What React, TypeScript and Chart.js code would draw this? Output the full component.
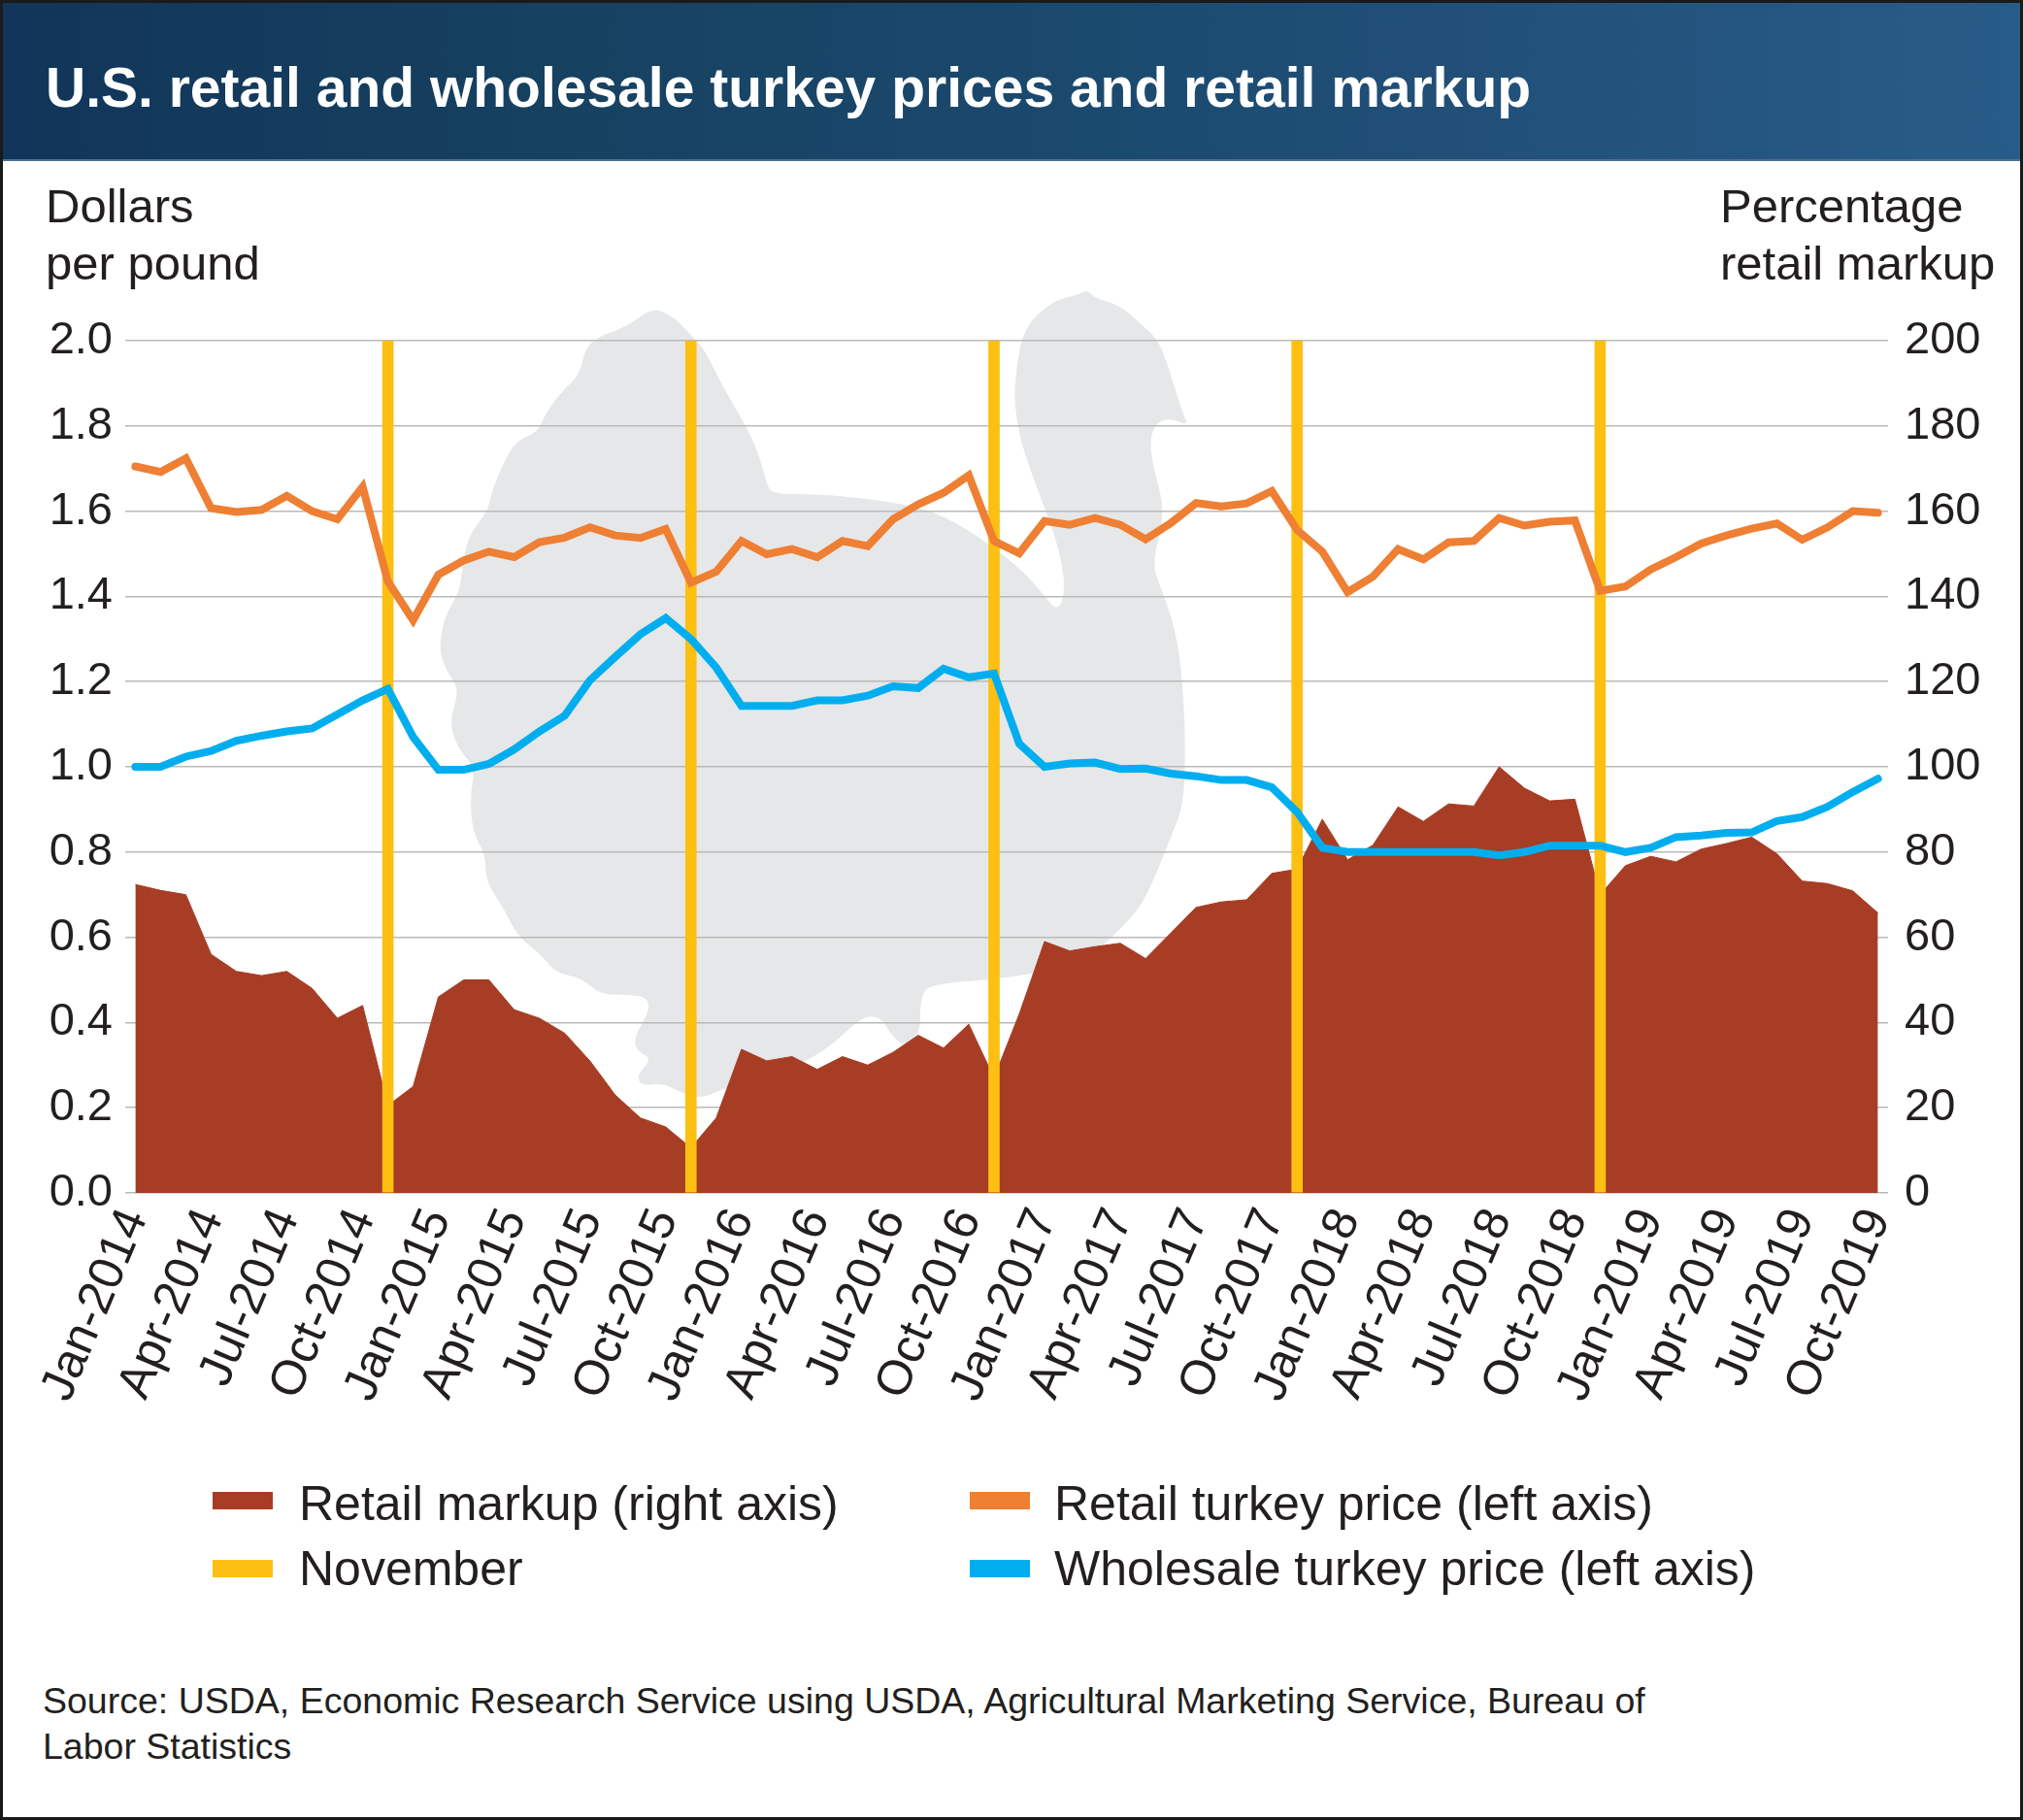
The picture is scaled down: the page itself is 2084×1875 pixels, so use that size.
import React, { useEffect, useRef } from "react";
import { Chart, registerables } from "chart.js";

Chart.register(...registerables);

// ---------- DATA ----------
const months = [
  "Jan-2014", "Feb-2014", "Mar-2014", "Apr-2014", "May-2014", "Jun-2014", "Jul-2014", "Aug-2014", "Sep-2014", "Oct-2014", "Nov-2014", "Dec-2014",
  "Jan-2015", "Feb-2015", "Mar-2015", "Apr-2015", "May-2015", "Jun-2015", "Jul-2015", "Aug-2015", "Sep-2015", "Oct-2015", "Nov-2015", "Dec-2015",
  "Jan-2016", "Feb-2016", "Mar-2016", "Apr-2016", "May-2016", "Jun-2016", "Jul-2016", "Aug-2016", "Sep-2016", "Oct-2016", "Nov-2016", "Dec-2016",
  "Jan-2017", "Feb-2017", "Mar-2017", "Apr-2017", "May-2017", "Jun-2017", "Jul-2017", "Aug-2017", "Sep-2017", "Oct-2017", "Nov-2017", "Dec-2017",
  "Jan-2018", "Feb-2018", "Mar-2018", "Apr-2018", "May-2018", "Jun-2018", "Jul-2018", "Aug-2018", "Sep-2018", "Oct-2018", "Nov-2018", "Dec-2018",
  "Jan-2019", "Feb-2019", "Mar-2019", "Apr-2019", "May-2019", "Jun-2019", "Jul-2019", "Aug-2019", "Sep-2019", "Oct-2019",
];

const tickLabels = [
  "Jan-2014", "Apr-2014", "Jul-2014", "Oct-2014",
  "Jan-2015", "Apr-2015", "Jul-2015", "Oct-2015",
  "Jan-2016", "Apr-2016", "Jul-2016", "Oct-2016",
  "Jan-2017", "Apr-2017", "Jul-2017", "Oct-2017",
  "Jan-2018", "Apr-2018", "Jul-2018", "Oct-2018",
  "Jan-2019", "Apr-2019", "Jul-2019", "Oct-2019",
];

// Retail turkey price, dollars per pound (left axis)
const retailPrice = [
  1.705, 1.692, 1.724, 1.607, 1.598, 1.603, 1.636, 1.600, 1.581, 1.657, 1.435, 1.344,
  1.451, 1.484, 1.505, 1.492, 1.527, 1.538, 1.562, 1.543, 1.537, 1.558, 1.432, 1.458,
  1.530, 1.499, 1.511, 1.492, 1.530, 1.518, 1.581, 1.616, 1.643, 1.684, 1.530, 1.501,
  1.577, 1.568, 1.584, 1.568, 1.534, 1.572, 1.619, 1.611, 1.618, 1.647, 1.556, 1.505,
  1.410, 1.446, 1.511, 1.487, 1.527, 1.530, 1.584, 1.566, 1.575, 1.578, 1.413, 1.423,
  1.463, 1.492, 1.524, 1.543, 1.559, 1.571, 1.533, 1.562, 1.600, 1.596,
];

// Wholesale turkey price, dollars per pound (left axis)
const wholesalePrice = [
  1.000, 1.000, 1.024, 1.037, 1.061, 1.073, 1.083, 1.090, 1.123, 1.156, 1.183, 1.070,
  0.993, 0.993, 1.007, 1.041, 1.083, 1.120, 1.203, 1.258, 1.311, 1.349, 1.300, 1.233,
  1.143, 1.143, 1.143, 1.156, 1.156, 1.167, 1.189, 1.185, 1.230, 1.210, 1.219, 1.054,
  1.000, 1.008, 1.010, 0.995, 0.996, 0.984, 0.978, 0.969, 0.969, 0.952, 0.894, 0.810,
  0.800, 0.800, 0.800, 0.800, 0.800, 0.800, 0.792, 0.800, 0.815, 0.815, 0.815, 0.800,
  0.810, 0.835, 0.839, 0.845, 0.846, 0.873, 0.882, 0.906, 0.941, 0.972,
];

// Percentage retail markup (right axis)
const retailMarkup = [
  72.4, 71.0, 70.0, 56.0, 52.0, 51.0, 52.0, 48.0, 41.0, 44.0, 20.5, 25.0,
  46.0, 50.0, 50.0, 43.0, 41.0, 37.5, 31.0, 23.0, 17.6, 15.5, 10.6, 17.6,
  33.7, 31.0, 32.0, 29.0, 32.0, 30.0, 33.0, 37.0, 34.0, 39.6, 27.0, 42.0,
  59.0, 56.8, 57.8, 58.6, 55.0, 61.0, 67.0, 68.3, 68.8, 75.0, 76.0, 87.7,
  78.2, 81.6, 90.6, 87.2, 91.3, 90.8, 100.0, 95.0, 92.0, 92.4, 70.0, 76.8,
  79.0, 77.7, 80.7, 82.0, 83.5, 79.6, 73.2, 72.6, 70.9, 65.7,
];

// November markers (full height of the left axis)
const novemberMonths = ["Nov-2014", "Nov-2015", "Nov-2016", "Nov-2017", "Nov-2018"];
const novemberValues = [2.0, 2.0, 2.0, 2.0, 2.0];

// ---------- STYLE ----------
const FONT = '"Liberation Sans", Arial, Helvetica, sans-serif';
const TEXT = "#231f20";
const C_MARKUP = "#a63d24";
const C_RETAIL = "#ee7f33";
const C_WHOLE = "#00aeef";
const C_NOV = "#fcbf12";

// Decorative turkey silhouette outline (reference-pixel outline, scaled to the chart area)
const TURKEY = [
  [470, 63], [420, 100], [345, 125], [330, 190], [300, 215], [265, 260], [250, 295], [210, 310], [185, 350],
  [160, 410], [155, 440], [115, 490], [105, 550], [100, 590], [70, 640], [60, 700], [75, 740], [100, 775],
  [80, 830], [95, 880], [130, 920], [120, 970], [125, 1040], [150, 1080], [150, 1130], [185, 1180], [210, 1230],
  [260, 1270], [285, 1300], [335, 1310], [370, 1340], [420, 1340], [460, 1345], [465, 1370], [435, 1420],
  [440, 1445], [470, 1460], [440, 1490], [450, 1510], [490, 1505], [520, 1520], [560, 1535], [620, 1510],
  [700, 1490], [800, 1450], [895, 1360], [945, 1440], [985, 1420], [985, 1340], [1010, 1320], [1160, 1310],
  [1300, 1280], [1380, 1210], [1420, 1160], [1470, 1040], [1490, 990], [1495, 900], [1490, 760], [1475, 660],
  [1450, 590], [1430, 540], [1450, 470], [1450, 420], [1435, 370], [1425, 310], [1440, 275], [1470, 270],
  [1500, 283], [1490, 260], [1470, 200], [1445, 125], [1410, 95], [1370, 60], [1320, 45], [1305, 30],
  [1290, 40], [1240, 50], [1185, 100], [1170, 170], [1165, 240], [1180, 320], [1210, 400], [1245, 490],
  [1262, 560], [1260, 610], [1245, 625], [1225, 600], [1180, 550], [1100, 490], [1010, 440], [900, 420],
  [790, 410], [700, 410], [690, 390], [670, 320], [630, 250], [600, 200], [570, 140], [540, 110], [510, 80],
];

const turkeyPlugin = {
  id: "turkeySilhouette",
  beforeDraw(chart: any) {
    const { ctx, chartArea: ca } = chart;
    if (!ca) return;
    const w = ca.right - ca.left;
    const h = ca.bottom - ca.top;
    const pts = TURKEY.map(([zx, zy]) => {
      const X = 711 + (zx - 543) * 0.5361;
      const Y = 351 + (zy - 125) * 0.5543;
      return [ca.left + ((X - 129) / 1816) * w, ca.top + ((Y - 351) / 878) * h];
    });
    const n = pts.length;
    const mid = (a: number[], b: number[]) => [(a[0] + b[0]) / 2, (a[1] + b[1]) / 2];
    ctx.save();
    ctx.beginPath();
    ctx.rect(ca.left, ca.top - 60, w, h + 60);
    ctx.clip();
    ctx.fillStyle = "#e6e7e8";
    ctx.beginPath();
    const m0 = mid(pts[n - 1], pts[0]);
    ctx.moveTo(m0[0], m0[1]);
    for (let i = 0; i < n; i++) {
      const p = pts[i];
      const m = mid(p, pts[(i + 1) % n]);
      ctx.quadraticCurveTo(p[0], p[1], m[0], m[1]);
    }
    ctx.closePath();
    ctx.fill();
    ctx.restore();
  },
};

export default function App() {
  const canvasRef = useRef<HTMLCanvasElement>(null);

  useEffect(() => {
    document.body.style.margin = "0";
    const canvas = canvasRef.current;
    if (!canvas) return;
    const toXY = (arr: number[]) => arr.map((v, i) => ({ x: i, y: v }));

    const chart = new Chart(canvas, {
      type: "line",
      data: {
        datasets: [
          {
            label: "Retail turkey price (left axis)",
            data: toXY(retailPrice),
            borderColor: C_RETAIL,
            backgroundColor: C_RETAIL,
            borderWidth: 8,
            pointRadius: 0,
            tension: 0,
            fill: false,
            borderJoinStyle: "miter",
            borderCapStyle: "round",
            yAxisID: "y",
            order: 0,
          } as any,
          {
            label: "Wholesale turkey price (left axis)",
            data: toXY(wholesalePrice),
            borderColor: C_WHOLE,
            backgroundColor: C_WHOLE,
            borderWidth: 8,
            pointRadius: 0,
            tension: 0,
            fill: false,
            borderJoinStyle: "miter",
            borderCapStyle: "round",
            yAxisID: "y",
            order: 1,
          } as any,
          {
            type: "bar",
            label: "November",
            data: novemberMonths.map((m, i) => ({ x: months.indexOf(m), y: novemberValues[i] })),
            backgroundColor: C_NOV,
            borderWidth: 0,
            barThickness: 11,
            yAxisID: "y",
            order: 2,
          } as any,
          {
            label: "Retail markup (right axis)",
            data: toXY(retailMarkup),
            borderColor: C_MARKUP,
            backgroundColor: C_MARKUP,
            borderWidth: 1,
            pointRadius: 0,
            tension: 0,
            fill: "origin",
            yAxisID: "y1",
            order: 3,
          } as any,
        ],
      },
      options: {
        responsive: false,
        animation: false,
        events: [],
        layout: { padding: { top: 51, left: 0, right: 0, bottom: 0 } },
        plugins: {
          legend: { display: false },
          tooltip: { enabled: false },
          title: { display: false },
        },
        scales: {
          x: {
            type: "linear",
            min: -0.4,
            max: 69.4,
            offset: false,
            grid: { display: false, drawTicks: false, offset: false },
            border: { display: false },
            afterBuildTicks: (scale: any) => {
              scale.ticks = tickLabels.map((l) => ({ value: months.indexOf(l) }));
            },
            afterFit: (scale: any) => {
              scale.height = 251;
            },
            ticks: {
              autoSkip: false,
              minRotation: 67,
              maxRotation: 67,
              padding: 8,
              color: TEXT,
              font: { family: FONT, size: 50 },
              callback: (v: any) => months[Math.round(Number(v))] ?? "",
            },
          },
          y: {
            position: "left",
            min: 0,
            max: 2,
            afterFit: (scale: any) => {
              scale.width = 129;
            },
            grid: { color: "#b9b9b9", lineWidth: 1.6, drawTicks: false },
            border: { display: false },
            ticks: {
              stepSize: 0.2,
              padding: 13,
              color: TEXT,
              font: { family: FONT, size: 47 },
              callback: (v: any) => Number(v).toFixed(1),
            },
          },
          y1: {
            position: "right",
            min: 0,
            max: 200,
            afterFit: (scale: any) => {
              scale.width = 139;
            },
            grid: { display: false, drawTicks: false },
            border: { display: false },
            ticks: {
              stepSize: 20,
              padding: 17,
              color: TEXT,
              font: { family: FONT, size: 47 },
              callback: (v: any) => String(Math.round(Number(v))),
            },
          },
        },
      } as any,
      plugins: [turkeyPlugin],
    });

    return () => chart.destroy();
  }, []);

  const abs = (s: React.CSSProperties): React.CSSProperties => ({ position: "absolute", whiteSpace: "nowrap", ...s });

  const legendItems = [
    { label: "Retail markup (right axis)", color: C_MARKUP, sx: 219, tx: 308, row: 0 },
    { label: "Retail turkey price (left axis)", color: C_RETAIL, sx: 999, tx: 1086, row: 0 },
    { label: "November", color: C_NOV, sx: 219, tx: 308, row: 1 },
    { label: "Wholesale turkey price (left axis)", color: C_WHOLE, sx: 999, tx: 1086, row: 1 },
  ];

  return (
    <div
      style={{
        position: "relative",
        width: 2084,
        height: 1875,
        background: "#ffffff",
        overflow: "hidden",
        fontFamily: FONT,
        color: TEXT,
      }}
    >
      {/* header band */}
      <div
        style={abs({
          left: 0,
          top: 0,
          width: 2084,
          height: 166,
          background:
            "linear-gradient(90deg, #11355a 0%, #16405f 25%, #1b4a6f 55%, #214f78 72%, #285c88 100%)",
          borderBottom: "2px solid #4d7396",
          boxSizing: "border-box",
        })}
      />
      <div
        style={abs({
          left: 47,
          top: 62,
          fontSize: 57,
          lineHeight: "57px",
          fontWeight: 700,
          color: "#ffffff",
        })}
      >
        U.S. retail and wholesale turkey prices and retail markup
      </div>

      {/* axis unit labels */}
      <div style={abs({ left: 47, top: 183, fontSize: 49, lineHeight: "59px" })}>
        Dollars
        <br />
        per pound
      </div>
      <div style={abs({ left: 1772, top: 183, fontSize: 49, lineHeight: "59px" })}>
        Percentage
        <br />
        retail markup
      </div>

      {/* chart */}
      <canvas
        ref={canvasRef}
        width={2084}
        height={1180}
        style={{ position: "absolute", left: 0, top: 300, width: 2084, height: 1180 }}
      />

      {/* legend */}
      {legendItems.map((it) => (
        <React.Fragment key={it.label}>
          <div
            style={abs({
              left: it.sx,
              top: 1537 + it.row * 70,
              width: 62,
              height: 18,
              background: it.color,
            })}
          />
          <div style={abs({ left: it.tx, top: 1524 + it.row * 67, fontSize: 50, lineHeight: "50px" })}>{it.label}</div>
        </React.Fragment>
      ))}

      {/* source */}
      <div style={abs({ left: 44, top: 1729, fontSize: 37.5, lineHeight: "47px" })}>
        Source: USDA, Economic Research Service using USDA, Agricultural Marketing Service, Bureau of
        <br />
        Labor Statistics
      </div>

      {/* frame */}
      <div
        style={abs({
          left: 0,
          top: 0,
          width: 2084,
          height: 1875,
          border: "3px solid #1a1a1a",
          boxSizing: "border-box",
          pointerEvents: "none",
        })}
      />
    </div>
  );
}
